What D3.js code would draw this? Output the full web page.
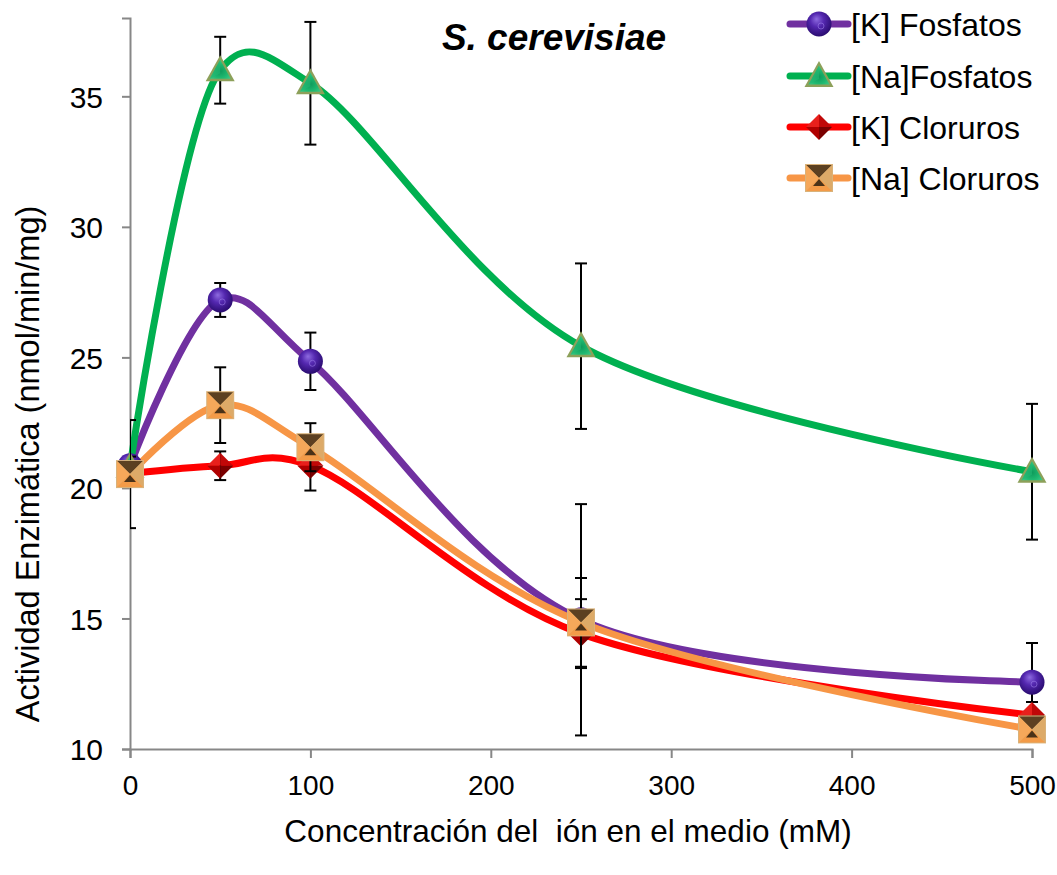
<!DOCTYPE html>
<html><head><meta charset="utf-8">
<script src="https://cdn.jsdelivr.net/npm/d3@7"></script>
<style>
html,body{margin:0;padding:0;background:#fff;}
svg{display:block;font-family:"Liberation Sans",Arial,sans-serif;}
text{white-space:pre;}
</style></head>
<body><svg id="chart" width="1057" height="875"></svg>
<script>
// ---- data ----
const concentrations = [0, 50, 100, 250, 500];
const seriesNames = ["[K] Fosfatos", "[Na]Fosfatos", "[K] Cloruros", "[Na] Cloruros"];
const kFosfatos      = [20.85, 27.2, 24.85, 14.95, 12.56];
const kFosfatosErr   = [0.3, 0.65, 1.1, 4.43, 1.5];
const naFosfatos     = [20.8, 36.0, 35.5, 25.43, 20.62];
const naFosfatosErr  = [0.4, 1.28, 2.35, 3.17, 2.6];
const kCloruros      = [20.55, 20.85, 20.85, 14.42, 11.3];
const kClorurosErr   = [0.3, 0.55, 0.95, 1.32, 0.5];
const naCloruros     = [20.53, 23.17, 21.56, 14.85, 10.75];
const naClorurosErr  = [2.07, 1.45, 0.92, 1.7, 0.3];
const xTicks = [0, 100, 200, 300, 400, 500];
const yTicks = [10, 15, 20, 25, 30, 35];
const chartTitle = "S. cerevisiae";
const xTitle = "Concentración del  ión en el medio (mM)";
const yTitle = "Actividad Enzimática (nmol/min/mg)";

const colors = ["#7030A0", "#00B050", "#FF0000", "#F79646"];
const markerTypes = ["sphere", "triangle", "diamond", "pyramid"];
const values = [kFosfatos, naFosfatos, kCloruros, naCloruros];
const errors = [kFosfatosErr, naFosfatosErr, kClorurosErr, naClorurosErr];

const series = seriesNames.map((name, i) => ({
  name, color: colors[i], marker: markerTypes[i],
  points: concentrations.map((c, j) => ({x: c, y: values[i][j], e: errors[i][j]}))
}));

// ---- layout ----
const svg = d3.select("#chart");
const x = d3.scaleLinear().domain([0, 500]).range([130, 1032]);
const y = d3.scaleLinear().domain([10, 38]).range([749, 18]);
const axisColor = "#878787";
const FONT = "Liberation Sans, Arial, sans-serif";

const defs = svg.append("defs");
defs.append("clipPath").attr("id", "plotClip").append("rect")
  .attr("x", 130).attr("y", 0).attr("width", 927).attr("height", 875);
const sg = defs.append("radialGradient").attr("id", "sphereGrad")
  .attr("cx", "45%").attr("cy", "40%").attr("r", "60%").attr("fx", "40%").attr("fy", "30%");
sg.append("stop").attr("offset", "0%").attr("stop-color", "#8E6BE0");
sg.append("stop").attr("offset", "45%").attr("stop-color", "#5428B0");
sg.append("stop").attr("offset", "100%").attr("stop-color", "#2A0C70");
const tg = defs.append("radialGradient").attr("id", "triGrad")
  .attr("cx", "50%").attr("cy", "60%").attr("r", "60%");
tg.append("stop").attr("offset", "0%").attr("stop-color", "#0E9A5A");
tg.append("stop").attr("offset", "60%").attr("stop-color", "#1FB870");
tg.append("stop").attr("offset", "100%").attr("stop-color", "#3CC884");

// ---- axes ----
const yAxis = d3.axisLeft(y).tickValues(yTicks).tickSize(8).tickPadding(19).tickFormat(d3.format("d"));
const gy = svg.append("g").attr("transform", "translate(130,0)").call(yAxis);
gy.select(".domain").attr("stroke", axisColor).attr("stroke-width", 2);
gy.selectAll(".tick line").attr("stroke", axisColor).attr("stroke-width", 2);
gy.selectAll(".tick text").attr("font-size", 30).attr("fill", "#000")
  .attr("font-family", FONT).attr("dy", "0.36em");

const xAxis = d3.axisBottom(x).tickValues(xTicks).tickSize(9).tickPadding(17).tickFormat(d3.format("d"));
const gx = svg.append("g").attr("transform", "translate(0,749)").call(xAxis);
gx.select(".domain").attr("stroke", axisColor).attr("stroke-width", 2);
gx.selectAll(".tick line").attr("stroke", axisColor).attr("stroke-width", 2);
gx.selectAll(".tick text").attr("font-size", 28).attr("fill", "#000")
  .attr("font-family", FONT);

// ---- titles ----
svg.append("text").attr("x", 554).attr("y", 50).attr("text-anchor", "middle")
  .attr("font-size", 37).attr("font-weight", "bold").attr("font-style", "italic").text(chartTitle);
svg.append("text").attr("x", 568).attr("y", 842).attr("text-anchor", "middle")
  .attr("font-size", 31.5).attr("xml:space", "preserve").text(xTitle);
svg.append("text").attr("transform", "translate(39,464) rotate(-90)").attr("text-anchor", "middle")
  .attr("font-size", 32.5).text(yTitle);

// ---- marker drawing ----
function drawMarker(g, type) {
  if (type === "sphere") {
    g.append("circle").attr("r", 12.5).attr("fill", "url(#sphereGrad)");
    g.append("circle").attr("r", 3).attr("cx", 2).attr("cy", 2).attr("fill", "none")
      .attr("stroke", "#9B7BE8").attr("stroke-width", 1).attr("opacity", 0.6);
  } else if (type === "triangle") {
    g.append("path").attr("d", "M0,-15 L14.5,11 L-14.5,11 Z").attr("fill", "#8DA05A");
    g.append("path").attr("d", "M0,-10.5 L10.5,8.5 L-10.5,8.5 Z").attr("fill", "url(#triGrad)");
    g.append("path").attr("d", "M0,-10.5 L0,3 L-10.5,8.5 Z").attr("fill", "#23B873").attr("opacity", 0.6);
  } else if (type === "diamond") {
    const s = 13;
    g.append("path").attr("d", `M0,${-s} L0,0 L${-s},0 Z`).attr("fill", "#E8201C");
    g.append("path").attr("d", `M0,${-s} L0,0 L${s},0 Z`).attr("fill", "#C00808");
    g.append("path").attr("d", `M${-s},0 L0,0 L0,${s} Z`).attr("fill", "#B00000");
    g.append("path").attr("d", `M${s},0 L0,0 L0,${s} Z`).attr("fill", "#7A0000");
  } else if (type === "pyramid") {
    const s = 13;
    g.append("rect").attr("x", -s - 1).attr("y", -s - 1).attr("width", 2 * s + 2).attr("height", 2 * s + 2)
      .attr("fill", "#D9B27A");
    g.append("path").attr("d", `M${-s},${-s} L${s},${-s} L0,0 Z`).attr("fill", "#5C4021");
    g.append("path").attr("d", `M${-s},${-s} L0,0 L${-s},${s} Z`).attr("fill", "#F6A85A");
    g.append("path").attr("d", `M${s},${-s} L0,0 L${s},${s} Z`).attr("fill", "#DDAA68");
    g.append("path").attr("d", `M${-s},${s} L0,0 L${s},${s} Z`).attr("fill", "#F39B48");
    g.append("path").attr("d", `M0,1 L6,8 L-6,8 Z`).attr("fill", "#4A3218");
  }
}

// ---- lines ----
const line = d3.line().x(d => x(d.x)).y(d => y(d.y)).curve(d3.curveCatmullRom.alpha(0.25));
series.forEach(s => {
  svg.append("path").datum(s.points).attr("d", line)
    .attr("fill", "none").attr("stroke", s.color).attr("stroke-width", 7)
    .attr("stroke-linecap", "round").attr("stroke-linejoin", "round");
});

// ---- error bars + markers ----
series.forEach(s => {
  const eg = svg.append("g").attr("clip-path", "url(#plotClip)");
  s.points.forEach(p => {
    const cx = x(p.x), y1 = y(p.y + p.e), y2 = y(p.y - p.e);
    eg.append("line").attr("x1", cx).attr("x2", cx).attr("y1", y1).attr("y2", y2)
      .attr("stroke", "#000").attr("stroke-width", 2);
    [y1, y2].forEach(yy => eg.append("line").attr("x1", cx - 6).attr("x2", cx + 6)
      .attr("y1", yy).attr("y2", yy).attr("stroke", "#000").attr("stroke-width", 2));
  });
  s.points.forEach(p => {
    const g = svg.append("g").attr("transform", `translate(${x(p.x)},${y(p.y)})`);
    drawMarker(g, s.marker);
  });
});

// ---- legend ----
const legendY = [24, 76, 127, 178];
series.forEach((s, i) => {
  const g = svg.append("g").attr("transform", `translate(0,${legendY[i]})`);
  g.append("line").attr("x1", 790).attr("x2", 848).attr("y1", 0).attr("y2", 0)
    .attr("stroke", s.color).attr("stroke-width", 7).attr("stroke-linecap", "round");
  const m = g.append("g").attr("transform", "translate(819,0)");
  drawMarker(m, s.marker);
  g.append("text").attr("x", 851).attr("y", 0).attr("dy", "0.36em")
    .attr("font-size", 32).text(s.name);
});
</script>
</body></html>
